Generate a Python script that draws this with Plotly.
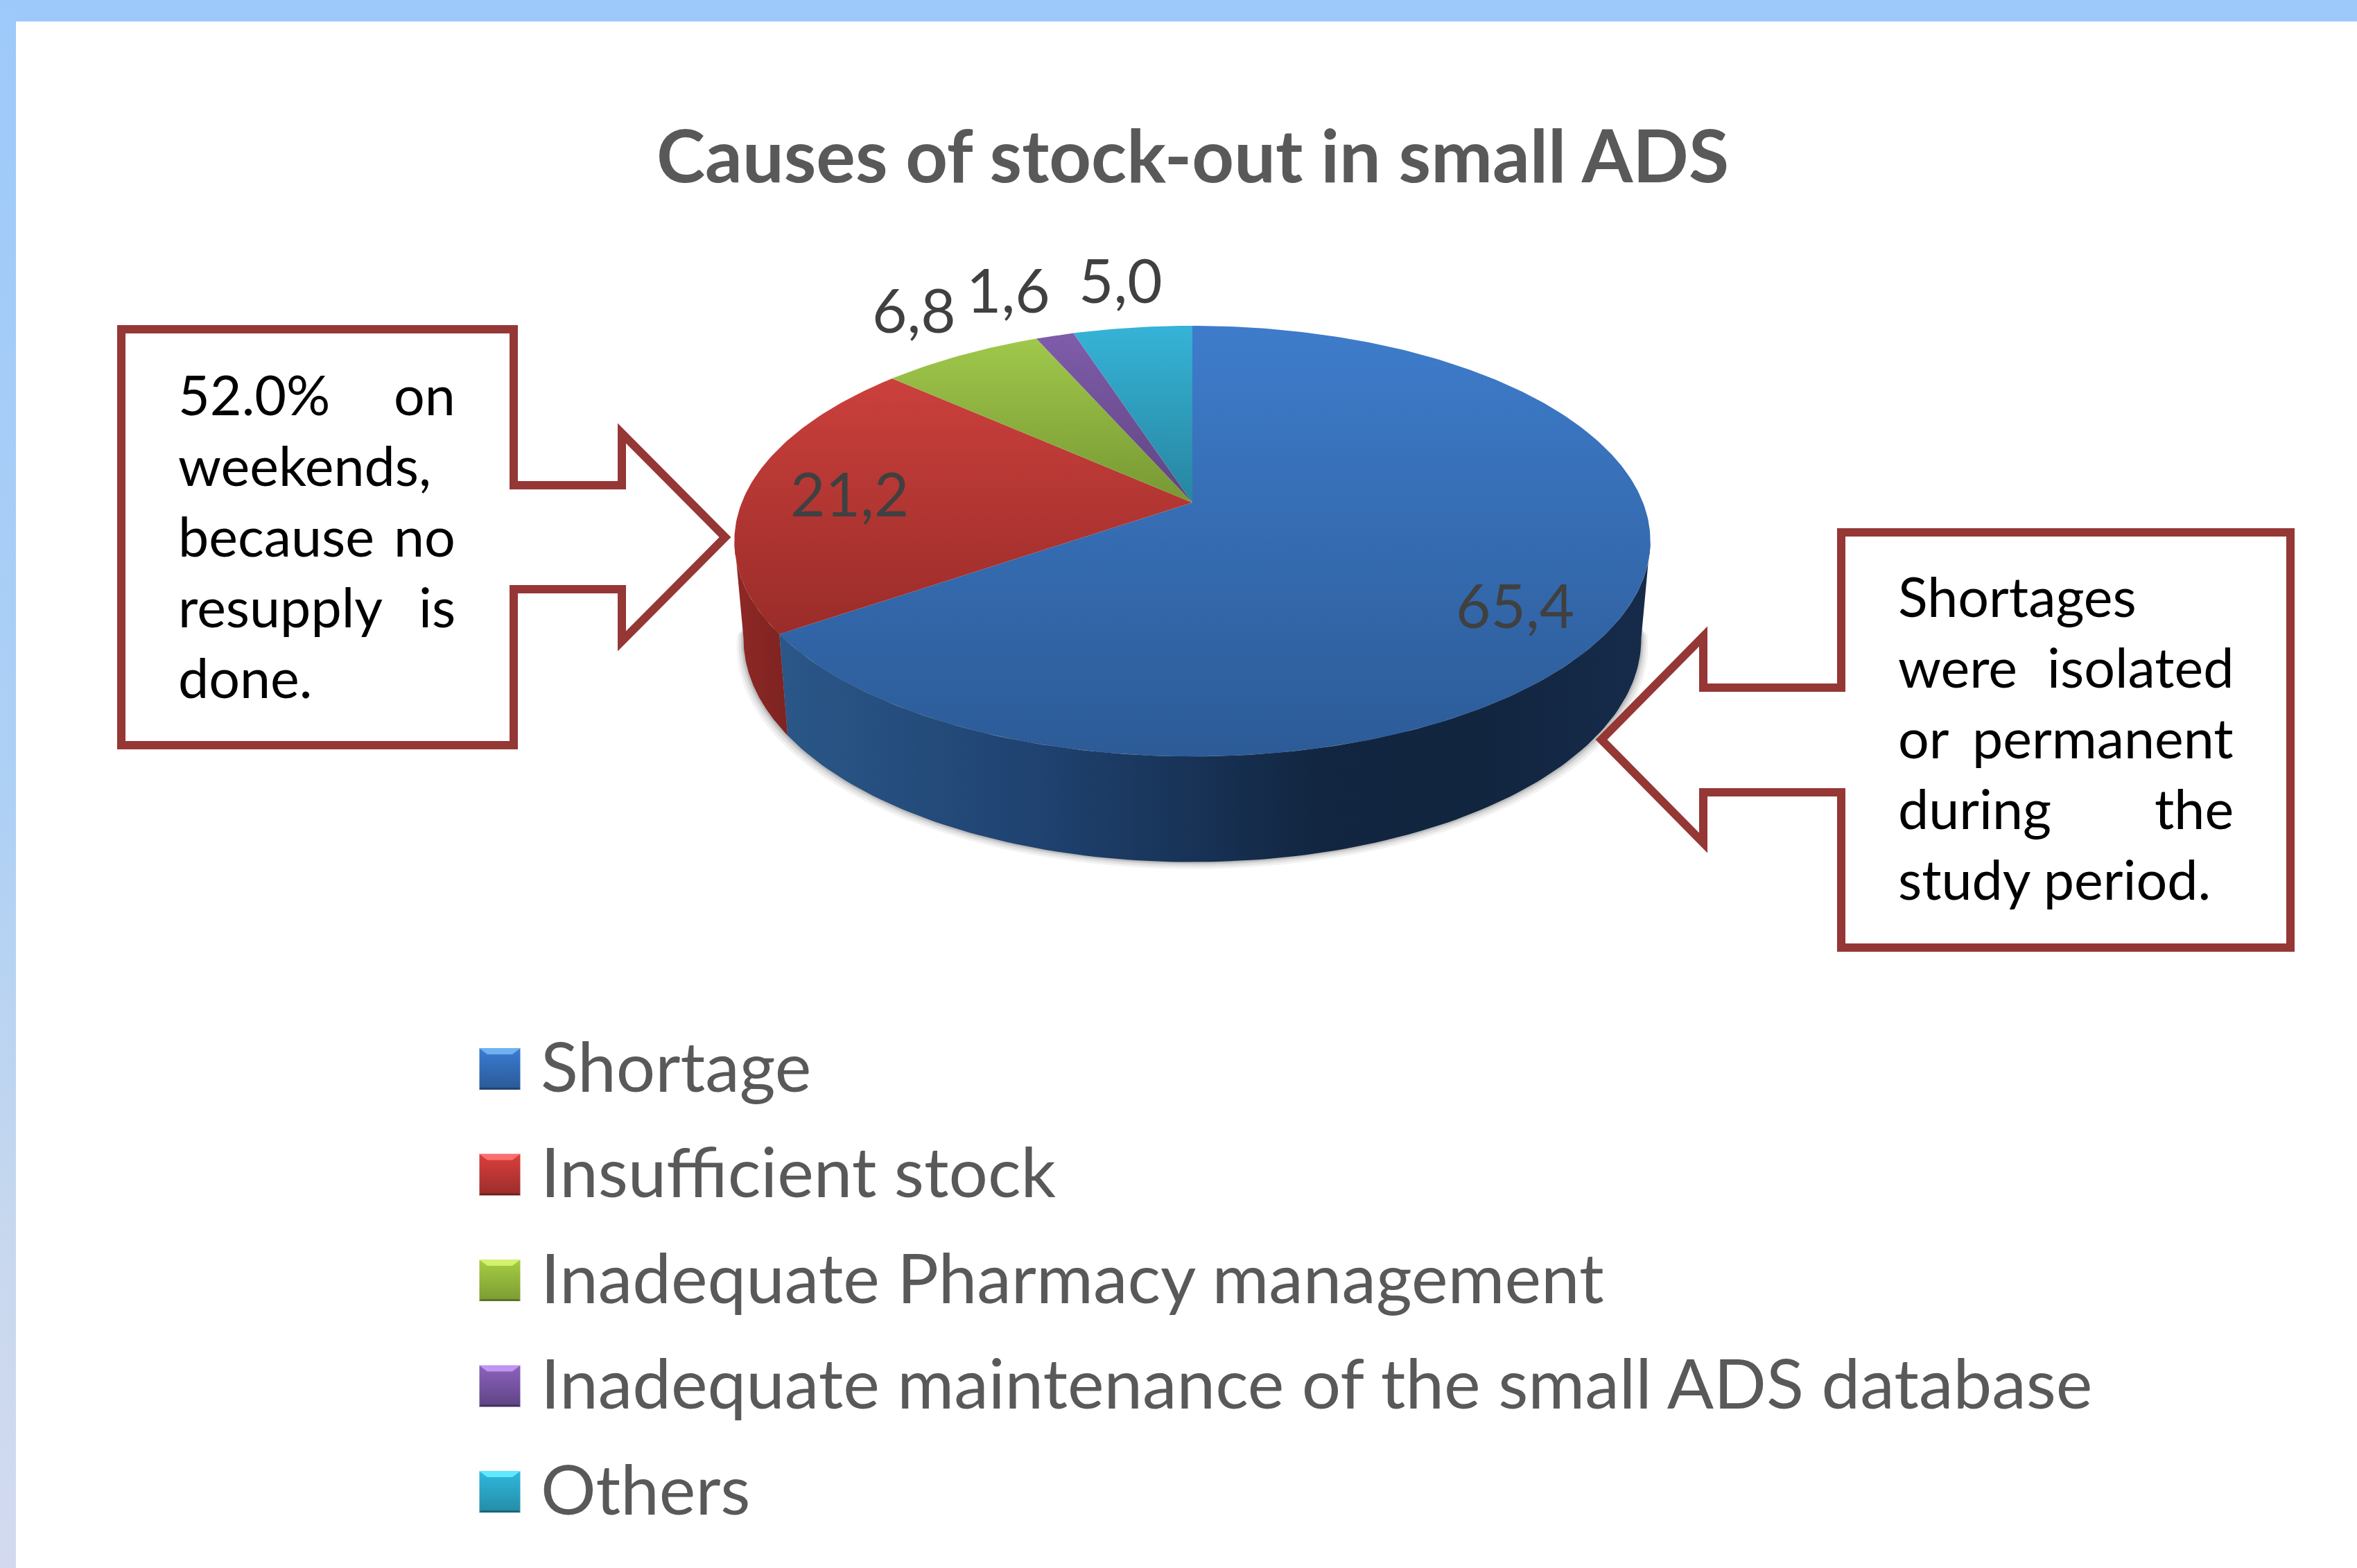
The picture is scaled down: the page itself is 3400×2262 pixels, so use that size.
import math
import plotly.graph_objects as go

# ---- data ----
CATEGORIES = ["Shortage", "Insufficient stock", "Inadequate Pharmacy management",
              "Inadequate maintenance of the small ADS database", "Others"]
VALUES = [65.4, 21.2, 6.8, 1.6, 5.0]
VALUE_LABELS = ["65,4", "21,2", "6,8", "1,6", "5,0"]
TITLE = "Causes of stock-out in small ADS"
LEFT_NOTE = [("52.0%", "on"), ("weekends,", ""), ("because", "no"), ("resupply", "is"), ("done.", "")]
RIGHT_NOTE = [("Shortages", ""), ("were", "isolated"), ("or", "permanent"), ("during", "the"), ("study period.", "")]

# ---- style ----
W, H = 3400, 2262
FONT = "Lato"
TOP_COLORS = [("#3E7CCB", "#2C5B97"), ("#CB403C", "#9A2C29"), ("#A0C84B", "#779833"),
              ("#7F5CAA", "#5E4480"), ("#35B2D6", "#27859F")]
GRAD_SPANS = [(470, 1091), (546, 913), (488, 725), (484, 725), (476, 725)]
SWATCH = [("#3A7CD2", "#2A5A98"), ("#DB3E3C", "#9A2E2B"), ("#A6CE42", "#7C9B34"),
          ("#8C62BE", "#5E4484"), ("#2FB8DC", "#258CA8")]
SWATCH_HI = ["#6FB0F0", "#F87070", "#D4F070", "#C096F0", "#60E8FF"]
SWATCH_LO = ["#1F4470", "#6E1F1D", "#5A7226", "#44305F", "#1A6478"]
LABEL_OFFSETS = [(-162, -5), (147, 5), (-68, -66), (-67, -67), (-17, -69)]
TEXT_GREY, LABEL_GREY, BOX_RED = "#595959", "#404040", "#953735"

# projected pie geometry (pixels)
CX, Y0, A, B, P = 1720, 725, 650, 300.7, 0.179
SHRINK, DEPTH, DEPTH_SLOPE = 0.98, 139.5, 0.035


def top(pct, r=1.0):
    t = math.radians(pct * 3.6)
    u, v = r * math.sin(t), r * math.cos(t)
    w = 1 + P * v
    return CX + A * u / w, Y0 - B * v / w


def bottom(pct):
    x, y = top(pct)
    return CX + SHRINK * (x - CX), y + DEPTH + DEPTH_SLOPE * (y - Y0)


def arc(fn, a, b, n=120):
    pts = [fn(a + (b - a) * i / n) for i in range(n + 1)]
    return [p[0] for p in pts], [p[1] for p in pts]


fig = go.Figure()


def poly(xs, ys, **kw):
    fig.add_trace(go.Scatter(x=xs, y=ys, mode="lines", fill="toself", showlegend=False,
                             hoverinfo="skip", **kw))


# page frame
poly([0, W, W, 0, 0], [0, 0, 31, 31, 0], fillcolor="#9DC9FA", line=dict(width=0))
poly([0, 23, 23, 0, 0], [0, 0, H, H, 0], line=dict(width=0),
     fillgradient=dict(type="vertical", start=0, stop=H,
                       colorscale=[[0, "#9DC9FA"], [0.5, "#ADD0F5"], [0.8, "#C8D8EE"], [1, "#D3DAF0"]]))

# soft shadow of the pie
sh0, sh1 = 27.0, 73.0
bx, by = arc(bottom, sh0, sh1)
for grow, alpha in [(10, 0.07), (7, 0.10), (4, 0.14), (2, 0.18)]:
    gx = [CX + (x - CX) * (1 + grow / 650) for x in bx]
    gy = [y + grow for y in by]
    poly(gx + [CX], gy + [by[0]], fillcolor=f"rgba(90,90,90,{alpha})", line=dict(width=0))

# side walls
cum = [sum(VALUES[:i]) for i in range(len(VALUES) + 1)]
SIL_R, SIL_L = 27.8, 72.2
tx, ty = arc(top, SIL_R, cum[1])
bx, by = arc(bottom, SIL_R, cum[1])
poly(tx + bx[::-1], ty + by[::-1], line=dict(width=0),
     fillgradient=dict(type="horizontal", start=1130, stop=2370,
                       colorscale=[[0, "#2A5788"], [0.3, "#1F4270"], [0.62, "#122641"],
                                   [0.8, "#11253F"], [1, "#162B4A"]]))
tx, ty = arc(top, cum[1], SIL_L)
bx, by = arc(bottom, cum[1], SIL_L)
poly(tx + bx[::-1], ty + by[::-1], line=dict(width=0),
     fillgradient=dict(type="horizontal", start=1060, stop=1140,
                       colorscale=[[0, "#8F2825"], [1, "#7C2321"]]))

# top faces
for i, name in enumerate(CATEGORIES):
    xs, ys = arc(top, cum[i], cum[i + 1], n=max(8, int(VALUES[i] * 4)))
    xs, ys = [CX] + xs + [CX], [Y0] + ys + [Y0]
    poly(xs, ys, name=name, line=dict(width=0),
         fillgradient=dict(type="vertical", start=GRAD_SPANS[i][0], stop=GRAD_SPANS[i][1],
                           colorscale=[[0, TOP_COLORS[i][0]], [1, TOP_COLORS[i][1]]]))

annotations = []


def text(x, y, s, size, color, anchor="left", bold=False):
    annotations.append(dict(x=x, y=y, xref="x", yref="y", text=f"<b>{s}</b>" if bold else s,
                            showarrow=False, xanchor=anchor, yanchor="middle",
                            font=dict(family=FONT, size=size, color=color)))


# value labels, placed relative to the middle of each slice's rim
for i, lab in enumerate(VALUE_LABELS):
    mx, my = top((cum[i] + cum[i + 1]) / 2)
    text(mx + LABEL_OFFSETS[i][0], my + LABEL_OFFSETS[i][1], lab, 87, LABEL_GREY, "center")

text(1720, 222, TITLE, 106, TEXT_GREY, "center", bold=True)

# callouts
shapes = [
    dict(type="path", xref="x", yref="y", line=dict(color=BOX_RED, width=12),
         path="M175,475 L741,475 L741,700 L897,700 L897,625 L1046,775 L897,925 L897,850 "
              "L741,850 L741,1075 L175,1075 Z"),
    dict(type="path", xref="x", yref="y", line=dict(color=BOX_RED, width=12),
         path="M2656,768 L3304,768 L3304,1367 L2656,1367 L2656,1143 L2457,1143 L2457,1216 "
              "L2310,1067 L2457,918 L2457,992 L2656,992 Z"),
]
for rows, xl, xr, ytop in [(LEFT_NOTE, 255, 659, 568), (RIGHT_NOTE, 2736, 3224, 859)]:
    for j, (a, b) in enumerate(rows):
        y = ytop + j * 102
        text(xl, y, a, 79, "#000000")
        if b:
            text(xr, y, b, 79, "#000000", "right")

# legend
S = 30
for i, name in enumerate(CATEGORIES):
    y = 1542 + i * 152.5
    fig.add_trace(go.Scatter(x=[721], y=[y], mode="markers", showlegend=False, hoverinfo="skip",
                             marker=dict(symbol="square", size=59, color=SWATCH[i][0],
                                         gradient=dict(type="vertical", color=SWATCH[i][1]),
                                         line=dict(width=0))))
    shapes.append(dict(type="path", xref="x", yref="y", line=dict(width=0), fillcolor=SWATCH_HI[i],
                       path=f"M{721-S},{y-S} L{721+S},{y-S} L{721+S-12},{y-S+9} L{721-S+12},{y-S+9} Z"))
    shapes.append(dict(type="path", xref="x", yref="y", line=dict(width=0), fillcolor=SWATCH_LO[i],
                       path=f"M{721-S},{y+S} L{721+S},{y+S} L{721+S-3},{y+S-3} L{721-S+3},{y+S-3} Z"))
    text(778, y - 6, name, 99.6, TEXT_GREY)

fig.update_layout(
    width=W, height=H, margin=dict(l=0, r=0, t=0, b=0), autosize=False,
    paper_bgcolor="#FFFFFF", plot_bgcolor="#FFFFFF", showlegend=False,
    xaxis=dict(range=[0, W], visible=False, fixedrange=True),
    yaxis=dict(range=[H, 0], visible=False, fixedrange=True),
    shapes=shapes, annotations=annotations,
)
fig.write_html("out.html", config={"displayModeBar": False},
               post_script="document.body.style.margin='0';document.body.style.overflow='hidden';")
